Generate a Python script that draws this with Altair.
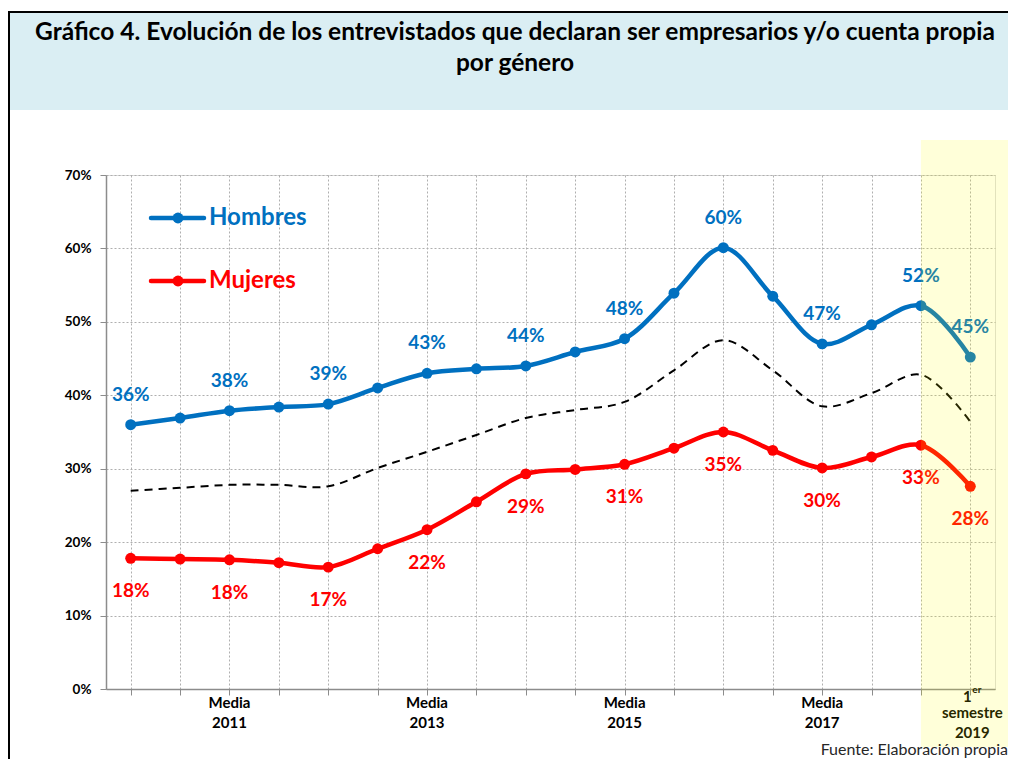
import altair as alt
import pandas as pd

# ---- data ----
indices = list(range(18))
hombres = [36.0, 36.9, 37.9, 38.4, 38.8, 41.0, 43.0, 43.6, 44.0, 45.9, 47.7, 53.9, 60.1, 53.5, 47.0, 49.6, 52.2, 45.2]
mujeres = [17.8, 17.7, 17.6, 17.2, 16.6, 19.1, 21.7, 25.5, 29.3, 29.9, 30.6, 32.8, 35.0, 32.5, 30.1, 31.6, 33.2, 27.6]
total = [27.0, 27.4, 27.8, 27.8, 27.6, 30.1, 32.3, 34.6, 36.9, 38.0, 39.1, 43.4, 47.5, 43.4, 38.5, 40.3, 42.8, 36.4]
labeled_idx = [0, 2, 4, 6, 8, 10, 12, 14, 16, 17]

series_names = ["Hombres", "Mujeres"]
series_colors = ["#0070C0", "#FF0000"]

media_idx = [2, 6, 10, 14]
media_line1 = ["Media", "Media", "Media", "Media"]
media_line2 = ["2011", "2013", "2015", "2017"]
sem_idx = [17]
sem_num = ["1"]
sem_sup = ["er"]
sem_line2 = ["semestre"]
sem_line3 = ["2019"]

y_ticks = [0, 10, 20, 30, 40, 50, 60, 70]

title_line1 = "Gráfico 4. Evolución de los entrevistados que declaran ser empresarios y/o cuenta propia"
title_line2 = "por género"
source_text = "Fuente: Elaboración propia"

FONT = "Lato"

# ---- tables ----
long_rows = []
for name, vals in (("Hombres", hombres), ("Mujeres", mujeres)):
    for i, v in zip(indices, vals):
        long_rows.append({"idx": i, "serie": name, "v": v, "lab": i in labeled_idx})
df = pd.DataFrame(long_rows)
df_total = pd.DataFrame({"idx": indices, "v": total})
df_media = pd.DataFrame({"idx": media_idx, "l1": media_line1, "l2": media_line2})
df_sem = pd.DataFrame({"idx": sem_idx, "n": sem_num, "s": sem_sup, "l2": sem_line2, "l3": sem_line3})
one = pd.DataFrame({"k": [0]})

W, H = 889, 514

xscale = alt.Scale(domain=[-0.5, 17.5], nice=False, zero=False)
yscale = alt.Scale(domain=[0, 70], nice=False)
color_scale = alt.Scale(domain=series_names, range=series_colors)

X = alt.X("idx:Q", scale=xscale, title=None,
          axis=alt.Axis(values=indices, labels=False, grid=True, tickSize=6,
                        gridDash=[2, 2], gridColor="#AFAFAF", gridWidth=1,
                        domainColor="#8C8C8C", domainWidth=1.5, tickColor="#8C8C8C"))
Y = alt.Y("v:Q", scale=yscale, title=None,
          axis=alt.Axis(values=y_ticks, grid=True, tickSize=6, labelPadding=9,
                        labelExpr="datum.value + '%'", labelFont=FONT, labelFontSize=13.5,
                        labelFontWeight="bold", labelColor="#000000",
                        gridDash=[2, 2], gridColor="#AFAFAF", gridWidth=1,
                        domainColor="#8C8C8C", domainWidth=1.5, tickColor="#8C8C8C"))

base = alt.Chart(df)

total_line = alt.Chart(df_total).mark_line(
    interpolate="catmull-rom", color="black", strokeWidth=2, strokeDash=[8, 6]
).encode(x=X, y=Y)

lines = base.mark_line(interpolate="catmull-rom", strokeWidth=4.5).encode(
    x=alt.X("idx:Q", scale=xscale), y=alt.Y("v:Q", scale=yscale),
    color=alt.Color("serie:N", scale=color_scale, legend=None),
)
points = base.mark_circle(size=120, opacity=1).encode(
    x=alt.X("idx:Q", scale=xscale), y=alt.Y("v:Q", scale=yscale),
    color=alt.Color("serie:N", scale=color_scale, legend=None),
)
lab_h = base.transform_filter("datum.lab && datum.serie == 'Hombres'").transform_calculate(
    t="round(datum.v) + '%'"
).mark_text(font=FONT, fontSize=19, fontWeight="bold", dy=-30, color="#0070C0").encode(
    x=alt.X("idx:Q", scale=xscale), y=alt.Y("v:Q", scale=yscale), text="t:N")
lab_m = base.transform_filter("datum.lab && datum.serie == 'Mujeres'").transform_calculate(
    t="round(datum.v) + '%'"
).mark_text(font=FONT, fontSize=19, fontWeight="bold", dy=33, color="#FF0000").encode(
    x=alt.X("idx:Q", scale=xscale), y=alt.Y("v:Q", scale=yscale), text="t:N")

# legend (decoration)
legend_layers = []
for name, col, yy in (("Hombres", "#0070C0", 43), ("Mujeres", "#FF0000", 106)):
    legend_layers.append(alt.Chart(one).mark_rule(color=col, strokeWidth=4.5, strokeCap="round").encode(
        x=alt.value(45), x2=alt.value(98), y=alt.value(yy)))
    legend_layers.append(alt.Chart(one).mark_circle(color=col, size=120, opacity=1).encode(
        x=alt.value(72), y=alt.value(yy)))
    legend_layers.append(alt.Chart(one).mark_text(
        text=name, color=col, font=FONT, fontSize=24, fontWeight="bold", align="left", baseline="middle"
    ).encode(x=alt.value(103), y=alt.value(yy)))

# x labels
xl_font = dict(font=FONT, fontSize=15, fontWeight="bold", color="#000000", baseline="middle")
xl1 = alt.Chart(df_media).mark_text(**xl_font).encode(x=alt.X("idx:Q", scale=xscale), y=alt.value(528), text="l1:N")
xl2 = alt.Chart(df_media).mark_text(**xl_font).encode(x=alt.X("idx:Q", scale=xscale), y=alt.value(548), text="l2:N")
xs1 = alt.Chart(df_sem).mark_text(**xl_font, dx=-3).encode(x=alt.X("idx:Q", scale=xscale), y=alt.value(522), text="n:N")
xs1b = alt.Chart(df_sem).mark_text(font=FONT, fontSize=10, fontWeight="bold", color="#000000",
                                   baseline="middle", align="left", dx=2).encode(
    x=alt.X("idx:Q", scale=xscale), y=alt.value(515), text="s:N")
xs2 = alt.Chart(df_sem).mark_text(**xl_font, dx=2).encode(x=alt.X("idx:Q", scale=xscale), y=alt.value(538), text="l2:N")
xs3 = alt.Chart(df_sem).mark_text(**xl_font, dx=2).encode(x=alt.X("idx:Q", scale=xscale), y=alt.value(558), text="l3:N")

# highlight band (semi-transparent yellow on top)
band = alt.Chart(one).mark_rect(color="#FFFF00", opacity=0.15).encode(
    x=alt.datum(16, scale=xscale), x2=alt.value(904), y=alt.value(-35), y2=alt.value(572))

# header
header = alt.Chart(one).mark_rect(color="#DAEEF3").encode(
    x=alt.value(-98), x2=alt.value(912), y=alt.value(-163), y2=alt.value(-65))
top_border = alt.Chart(one).mark_rule(color="black", strokeWidth=2).encode(
    x=alt.value(-98), x2=alt.value(912), y=alt.value(-163))
left_border = alt.Chart(one).mark_rule(color="black", strokeWidth=2).encode(
    x=alt.value(-97), y=alt.value(-164), y2=alt.value(600))
t1 = alt.Chart(one).mark_text(text=title_line1, font=FONT, fontSize=24.5, fontWeight="bold",
                              color="#000000", baseline="middle").encode(x=alt.value(409), y=alt.value(-142))
t2 = alt.Chart(one).mark_text(text=title_line2, font=FONT, fontSize=24.5, fontWeight="bold",
                              color="#000000", baseline="middle").encode(x=alt.value(409), y=alt.value(-111))
src = alt.Chart(one).mark_text(text=source_text, font=FONT, fontSize=16, color="#262626",
                               align="right", baseline="alphabetic").encode(x=alt.value(902), y=alt.value(580))

chart = alt.layer(
    header, top_border, left_border, t1, t2,
    total_line, lines, points, lab_h, lab_m,
    *legend_layers,
    xl1, xl2, xs1, xs1b, xs2, xs3,
    band, src,
).properties(
    width=W, height=H,
    autosize=alt.AutoSizeParams(type="none"),
    padding={"left": 98, "top": 167, "right": 13, "bottom": 70},
).configure_view(stroke=None).configure(background="white")

chart.save("out.html", embed_options={"renderer": "svg", "actions": False})
